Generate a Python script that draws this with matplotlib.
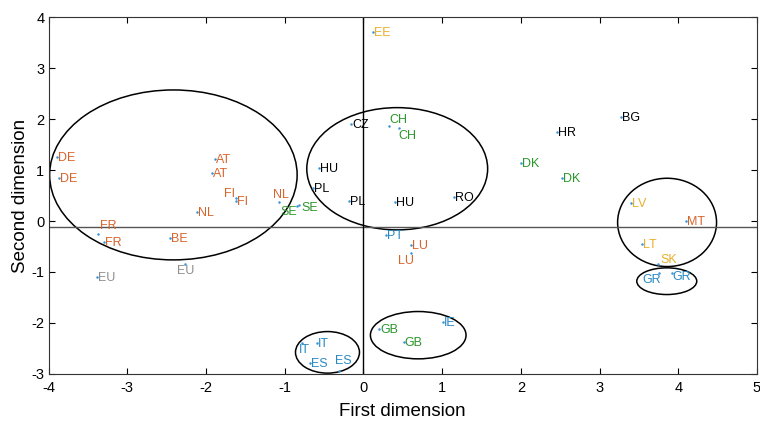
import matplotlib
matplotlib.use("Agg")
import matplotlib.pyplot as plt
from matplotlib.patches import Ellipse

plt.rcParams['font.family'] = ['Liberation Sans', 'DejaVu Sans']
plt.rcParams['axes.unicode_minus'] = False

codes = ["DE", "DE", "AT", "AT", "FI", "FI", "NL", "NL", "SE", "SE",
         "FR", "FR", "BE", "EU", "EU", "EE", "CZ", "CH", "CH", "HU",
         "PL", "PL", "HU", "RO", "DK", "BG", "HR", "DK", "LV", "MT",
         "LT", "SK", "GR", "GR", "IT", "IT", "ES", "ES", "GB", "GB",
         "IE", "PT", "LU", "LU"]
x1 = [-3.895, -3.873, -1.883, -1.921, -1.625, -1.617, -2.117, -1.076, -0.844, -0.819,
      -3.374, -3.295, -2.455, -3.387, -2.273, 0.118, -0.156, 0.321, 0.457, -0.568,
      -0.635, -0.187, 0.403, 1.156, 2.003, 3.272, 2.460, 2.518, 3.399, 4.098,
      3.539, 3.746, 3.759, 3.915, -0.778, -0.593, -0.673, -0.305, 0.203, 0.512,
      1.007, 0.292, 0.610, 0.606]
y1 = [1.252, 0.840, 1.213, 0.950, 0.447, 0.400, 0.173, 0.381, 0.296, 0.316,
      -0.259, -0.410, -0.338, -1.103, -0.848, 3.717, 1.905, 1.872, 1.827, 1.048,
      0.650, 0.394, 0.381, 0.479, 1.134, 2.049, 1.754, 0.840, 0.349, 0.008,
      -0.449, -0.842, -1.024, -1.024, -2.386, -2.386, -2.785, -2.936, -2.123, -2.367,
      -1.974, -0.273, -0.469, -0.632]
groups = ["o", "o", "o", "o", "o", "o", "o", "o", "g", "g",
          "o", "o", "o", "e", "e", "y", "k", "g", "g", "k",
          "k", "k", "k", "k", "g", "k", "k", "g", "y", "o",
          "y", "y", "b", "b", "b", "b", "b", "b", "g", "g",
          "b", "b", "o", "o"]

# cluster ellipses: centre x, centre y, width, height
ell_x = [-2.415, 0.429, 3.858, 3.854, 0.696, -0.457]
ell_y = [0.905, 1.026, -0.027, -1.181, -2.241, -2.578]
ell_w = [3.145, 2.298, 1.257, 0.762, 1.215, 0.813]
ell_h = [3.336, 2.40, 1.733, 0.524, 0.929, 0.816]

group_colors = {"o": "#d8642c", "g": "#2b962b", "y": "#e8b02a",
                "b": "#2789c2", "e": "#8e8e8e", "k": "black"}

# label placement tweaks (index: ha, dx px, dy px)
label_pos = {4: ("right", -1, 4), 7: ("center", 2, 7), 8: ("right", 0, -6),
             9: ("left", 2, -3), 10: ("left", 2, 8), 14: ("center", 1, -7),
             17: ("left", 1, 6), 18: ("left", -1, -8), 31: ("left", 2, 4),
             32: ("right", 2, -7), 33: ("left", 1, -4), 34: ("left", -3, -7),
             37: ("left", -4, 10), 43: ("center", -5, -8)}

fig = plt.figure(figsize=(7.6, 4.21), dpi=100)
ax = fig.add_axes([0.064, 0.112, 0.932, 0.847])

ax.axhline(-0.12, color="#555555", lw=1.0)
ax.axvline(0, color="black", lw=1.0)

for cx, cy, w, h in zip(ell_x, ell_y, ell_w, ell_h):
    ax.add_patch(Ellipse((cx, cy), w, h, fill=False, edgecolor="black", lw=1.1))

ax.plot(x1, y1, ".", color="#3a95d8", markersize=1.6, zorder=3)

for i, (c, xv, yv, g) in enumerate(zip(codes, x1, y1, groups)):
    ha, dx, dy = label_pos.get(i, ("left", 1, -1))
    ax.annotate(c, (xv, yv), xytext=(dx, dy), textcoords="offset pixels",
                ha=ha, va="center", fontsize=9, color=group_colors[g])

ax.set_xlim(-4, 5)
ax.set_ylim(-3, 4)
ax.set_xticks(range(-4, 6))
ax.set_yticks(range(-3, 5))
ax.tick_params(direction="in", top=True, right=True, length=4, labelsize=10.5)
ax.tick_params(axis="x", pad=5)
ax.tick_params(axis="y", pad=3)
for s in ax.spines.values():
    s.set_color("#333333")
ax.set_xlabel("First dimension", fontsize=13.5, labelpad=6)
ax.set_ylabel("Second dimension", fontsize=13.5, labelpad=2)

fig.savefig("out.png", dpi=100)
